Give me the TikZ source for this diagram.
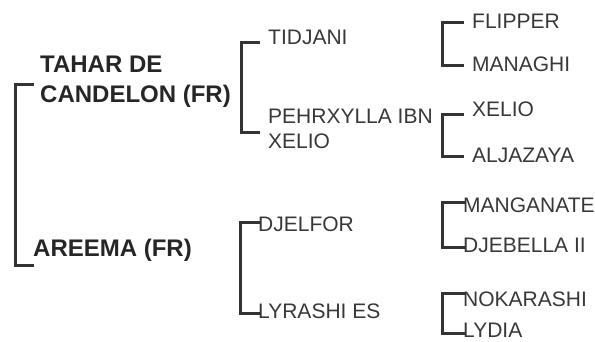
\documentclass[tikz,border=0pt]{standalone}
\usepackage{fontspec}
\setmainfont{Liberation Sans}
\begin{document}
\begin{tikzpicture}[x=1pt,y=-1pt,
  br/.style={draw=black!80,line width=3pt,line join=miter,line cap=rect},
  big/.style={inner sep=0pt,text=black!85,font=\fontsize{24}{30}\selectfont\bfseries,align=left},
  lbl/.style={inner sep=0pt,text=black!78,font=\fontsize{21}{25}\selectfont,align=left}]
\useasboundingbox (0,0) rectangle (595,342);
% level 1
\node[big,anchor=west] (tahar) at (40,82) {TAHAR DE\\CANDELON (FR)};
\node[big,anchor=base west] (areema) at (33,257) {AREEMA (FR)};
% level 2
\node[lbl,anchor=base west] (tidjani) at (268,45) {TIDJANI};
\node[lbl,anchor=west] (pehr) at (268,129) {PEHRXYLLA IBN\\XELIO};
\node[lbl,anchor=base west] (djelfor) at (258,232) {DJELFOR};
\node[lbl,anchor=base west] (lyrashi) at (258,318) {LYRASHI ES};
% level 3
\node[lbl,anchor=base west] (flipper) at (472,29) {FLIPPER};
\node[lbl,anchor=base west] (managhi) at (472,71.5) {MANAGHI};
\node[lbl,anchor=base west] (xelio) at (472,117) {XELIO};
\node[lbl,anchor=base west] (aljazaya) at (472,163) {ALJAZAYA};
\node[lbl,anchor=base west] (manganate) at (463,213) {MANGANATE};
\node[lbl,anchor=base west] (djebella) at (463,253) {DJEBELLA II};
\node[lbl,anchor=base west] (nokarashi) at (463,306) {NOKARASHI};
\node[lbl,anchor=base west] (lydia) at (463,337) {LYDIA};
% bracket coordinates
\coordinate (a1) at (32,85); \coordinate (a2) at (32,265);
\coordinate (b1) at (258,42.5); \coordinate (b2) at (258,133);
\coordinate (c1) at (258,223); \coordinate (c2) at (258,313);
\coordinate (d1) at (462,22.5); \coordinate (d2) at (462,65.5);
\coordinate (e1) at (462,115); \coordinate (e2) at (462,157);
\coordinate (f1) at (463,203); \coordinate (f2) at (463,248);
\coordinate (g1) at (463,293); \coordinate (g2) at (463,333);
\draw[br] (a1) -- (15,85) -- (15,265) -- (a2);
\draw[br] (b1) -- (241,42.5) -- (241,133) -- (b2);
\draw[br] (c1) -- (240,223) -- (240,313) -- (c2);
\draw[br] (d1) -- (442,22.5) -- (442,65.5) -- (d2);
\draw[br] (e1) -- (442,115) -- (442,157) -- (e2);
\draw[br] (f1) -- (442,203) -- (442,248) -- (f2);
\draw[br] (g1) -- (442,293) -- (442,333) -- (g2);
\end{tikzpicture}
\end{document}
